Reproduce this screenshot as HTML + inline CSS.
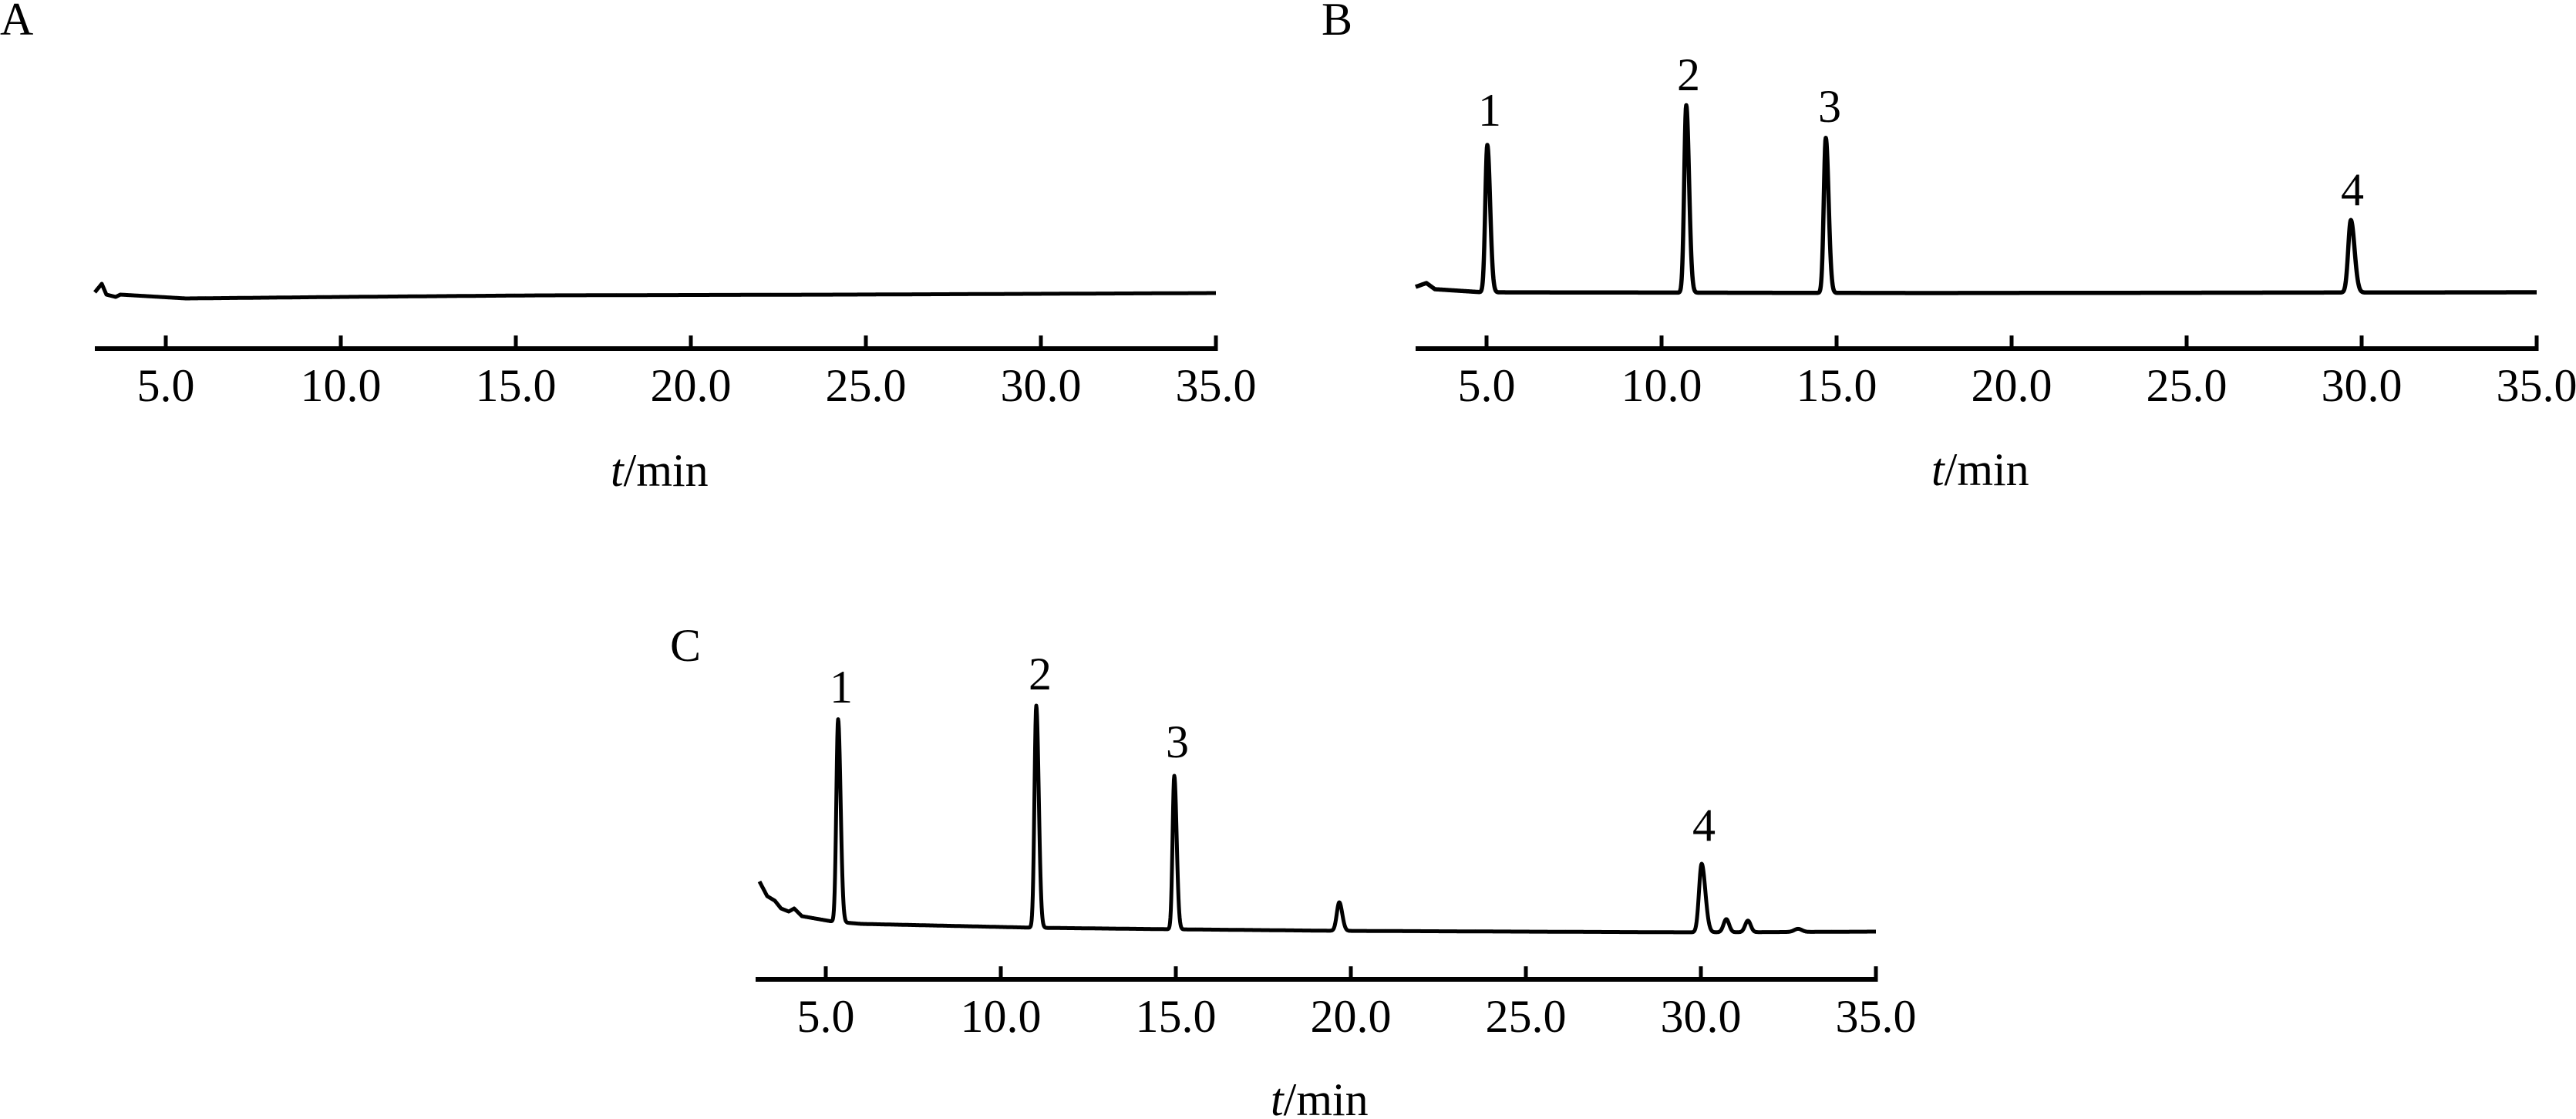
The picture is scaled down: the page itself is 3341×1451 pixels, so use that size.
<!DOCTYPE html>
<html><head><meta charset="utf-8">
<style>
html,body{margin:0;padding:0;background:#fff;}
svg{display:block;}
text{font-family:"Liberation Serif",serif;font-size:60px;fill:#000;}
</style></head>
<body>
<svg id="s" width="3341" height="1451" viewBox="0 0 3341 1451" xmlns="http://www.w3.org/2000/svg">
<rect width="3341" height="1451" fill="#fff"/>
<text x="0" y="45" font-size="62">A</text>
<text x="1714" y="45" font-size="62">B</text>
<text x="869" y="857" font-size="62">C</text>
<g id="axes"></g>
<path id="pA" fill="none" stroke="#000" stroke-width="5" stroke-linejoin="round"/>
<path id="pB" fill="none" stroke="#000" stroke-width="5.5" stroke-linejoin="round"/>
<path id="pC" fill="none" stroke="#000" stroke-width="5" stroke-linejoin="round"/>
<g text-anchor="middle">
<text x="1932" y="163">1</text><text x="2190" y="117">2</text><text x="2373" y="158">3</text><text x="3051" y="266">4</text>
<text x="1091" y="911">1</text><text x="1349" y="894">2</text><text x="1527" y="982">3</text><text x="2210" y="1090">4</text>
</g>
<text x="792" y="630"><tspan font-style="italic">t</tspan>/min</text>
<text x="2505" y="629"><tspan font-style="italic">t</tspan>/min</text>
<text x="1648" y="1446"><tspan font-style="italic">t</tspan>/min</text>
</svg>
<script>
var NS="http://www.w3.org/2000/svg";
var ax=document.getElementById("axes");
function el(n,a){var e=document.createElementNS(NS,n);for(var k in a)e.setAttribute(k,a[k]);ax.appendChild(e);return e;}
function axis(x0,x5,y){
  var xe=x5+30*45.4;
  el("line",{x1:x0,y1:y,x2:xe+2.5,y2:y,stroke:"#000","stroke-width":6});
  for(var i=0;i<7;i++){var x=x5+i*227;
    el("line",{x1:x,y1:y-17,x2:x,y2:y,stroke:"#000","stroke-width":5});
    var t=el("text",{x:x,y:y+68,"text-anchor":"middle"});t.textContent=(5+5*i)+".0";}
}
axis(123,215,452);axis(1836,1928,452);axis(980,1071,1270);
function interp(pts,x){if(x<=pts[0][0])return pts[0][1];
  for(var i=1;i<pts.length;i++){if(x<=pts[i][0]){var a=pts[i-1],b=pts[i];return a[1]+(b[1]-a[1])*(x-a[0])/(b[0]-a[0]);}}
  return pts[pts.length-1][1];}
function build(id,x0,x1,base,peaks){
  var d="";for(var x=x0;x<=x1;x+=0.5){var y=interp(base,x);
    for(var j=0;j<peaks.length;j++){var p=peaks[j];var dx=(x-p[0]);var s=p[2]*(dx>0?(p[3]||1):1);y-=p[1]*Math.exp(-dx*dx/(2*s*s));}
    d+=(x===x0?"M":"L")+x.toFixed(1)+" "+y.toFixed(1);}
  document.getElementById(id).setAttribute("d",d);}
build("pA",123,1577,[[123,379],[132,368],[138,382],[150,385],[156,382],[241,387],[446,385],[700,383],[1100,382],[1577,380]],[]);
build("pB",1836,3290,[[1836,372],[1850,367],[1861,375],[1923,379],[2500,380],[3290,379]],
 [[1929,191,2.6,1.4],[2187,243,2.6,1.4],[2368,201,2.6,1.4],[3049,94,3.4,1.4]]);
build("pC",985,2433,[[985,1143],[995,1162],[1005,1168],[1013,1178],[1023,1182],[1030,1178],[1040,1188],[1080,1195],[1117,1198],[1344,1203],[1523,1205],[1737,1207],[2206,1209],[2433,1208]],
 [[1087,263,2.3,1.4],[1344,288,2.3,1.4],[1523,199,2.2,1.4],[1737,37,3.2,1.2],[2207,89,3.4,1.4],[2239,17,3.6,1],[2267,15,3.6,1],[2332,4,5,1]]);
</script>
</body></html>
